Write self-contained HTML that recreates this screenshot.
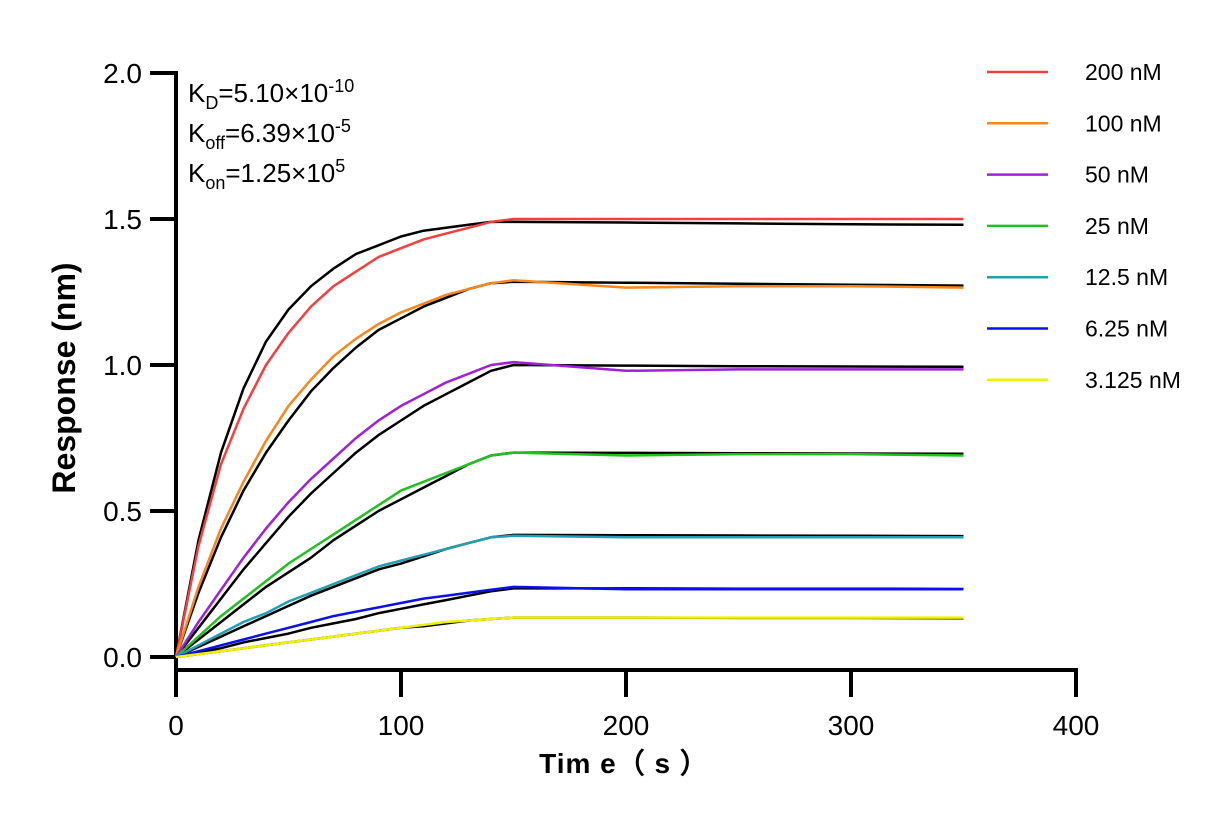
<!DOCTYPE html>
<html><head><meta charset="utf-8"><style>
body{margin:0;background:#fff}
text{font-family:"Liberation Sans",Arial,sans-serif}
</style></head><body>
<svg id="chart" width="1231" height="825" xmlns="http://www.w3.org/2000/svg">
<g id="axes"></g>
<g id="fits"></g>
<g id="series"></g>
<g id="legend"></g>
<text x="188" y="102" font-size="26">K<tspan font-size="18" dy="7">D</tspan><tspan dy="-7">=5.10×10</tspan><tspan font-size="18" dy="-10">-10</tspan></text>
<text x="188" y="142" font-size="26">K<tspan font-size="18" dy="7">off</tspan><tspan dy="-7">=6.39×10</tspan><tspan font-size="18" dy="-10">-5</tspan></text>
<text x="188" y="182" font-size="26">K<tspan font-size="18" dy="7">on</tspan><tspan dy="-7">=1.25×10</tspan><tspan font-size="18" dy="-10">5</tspan></text>
<text x="624" y="773" font-size="28" font-weight="bold" text-anchor="middle" letter-spacing="1">Tim e（ s ）</text>
<text transform="translate(75,378) rotate(-90)" font-size="32" font-weight="bold" text-anchor="middle">Response (nm)</text>
</svg>
<script>
const times=[0,10,20,30,40,50,60,70,80,90,100,110,120,130,140,150,200,250,300,350];
const labels=["200 nM","100 nM","50 nM","25 nM","12.5 nM","6.25 nM","3.125 nM"];
const colors=["#f04040","#f7861c","#a020d8","#20c020","#20a0b0","#0a10e8","#f0f000"];
const obs200=[0,0.38,0.66,0.85,1.0,1.11,1.2,1.27,1.32,1.37,1.40,1.43,1.45,1.47,1.49,1.50,1.50,1.50,1.50,1.50];
const obs100=[0,0.24,0.44,0.6,0.74,0.86,0.95,1.03,1.09,1.14,1.18,1.21,1.24,1.26,1.28,1.29,1.265,1.27,1.27,1.265];
const obs50=[0,0.12,0.23,0.34,0.44,0.53,0.61,0.68,0.75,0.81,0.86,0.9,0.94,0.97,1.0,1.01,0.98,0.985,0.985,0.985];
const obs25=[0,0.07,0.14,0.2,0.26,0.32,0.37,0.42,0.47,0.52,0.57,0.6,0.63,0.66,0.69,0.70,0.69,0.695,0.695,0.69];
const obs12=[0,0.04,0.08,0.12,0.15,0.19,0.22,0.25,0.28,0.31,0.33,0.35,0.37,0.39,0.41,0.415,0.41,0.41,0.41,0.41];
const obs6=[0,0.02,0.04,0.06,0.08,0.1,0.12,0.14,0.155,0.17,0.185,0.2,0.21,0.22,0.23,0.24,0.232,0.232,0.232,0.232];
const obs3=[0,0.01,0.02,0.03,0.04,0.05,0.06,0.07,0.08,0.09,0.1,0.11,0.12,0.125,0.13,0.135,0.135,0.135,0.135,0.135];
const fit200=[0,0.40,0.70,0.92,1.08,1.19,1.27,1.33,1.38,1.41,1.44,1.46,1.47,1.48,1.49,1.49,1.488,1.485,1.482,1.48];
const fit100=[0,0.22,0.41,0.57,0.7,0.81,0.91,0.99,1.06,1.12,1.16,1.2,1.23,1.26,1.28,1.285,1.282,1.278,1.275,1.272];
const fit50=[0,0.1,0.2,0.3,0.39,0.48,0.56,0.63,0.7,0.76,0.81,0.86,0.9,0.94,0.98,1.0,0.998,0.996,0.995,0.994];
const fit25=[0,0.06,0.12,0.18,0.24,0.29,0.34,0.4,0.45,0.5,0.54,0.58,0.62,0.66,0.69,0.70,0.699,0.698,0.697,0.696];
const fit12=[0,0.035,0.07,0.105,0.14,0.175,0.21,0.24,0.27,0.3,0.32,0.345,0.37,0.39,0.41,0.418,0.417,0.416,0.415,0.414];
const fit6=[0,0.015,0.03,0.05,0.065,0.08,0.1,0.115,0.13,0.15,0.165,0.18,0.195,0.21,0.225,0.235,0.235,0.234,0.234,0.233];
const fit3=[0,0.01,0.02,0.03,0.04,0.05,0.06,0.07,0.08,0.09,0.1,0.105,0.115,0.125,0.13,0.135,0.135,0.134,0.134,0.133];
const obsSeries=[obs200,obs100,obs50,obs25,obs12,obs6,obs3];
const fitSeries=[fit200,fit100,fit50,fit25,fit12,fit6,fit3];
const xTicks=[0,100,200,300,400];
const yTicks=[0,0.5,1.0,1.5,2.0];
const yTickLabels=["0.0","0.5","1.0","1.5","2.0"];

const NS="http://www.w3.org/2000/svg";
const X=t=>176+t*2.25;
const Y=v=>657-v*292;
function mk(tag,attrs,parent){const e=document.createElementNS(NS,tag);for(const k in attrs)e.setAttribute(k,attrs[k]);parent.appendChild(e);return e;}
const axes=document.getElementById('axes');
let yl=mk('line',{x1:176,y1:71,x2:176,y2:672,stroke:'#000','stroke-width':4},axes);


let xl=mk('line',{x1:174,y1:670,x2:1078,y2:670,stroke:'#000','stroke-width':4},axes);


xTicks.forEach(t=>{
  let l=mk('line',{x1:X(t),y1:670,x2:X(t),y2:697,stroke:'#000','stroke-width':4},axes);
  
  
  let tx=mk('text',{x:X(t),y:735,'font-size':28,'text-anchor':'middle'},axes);tx.textContent=t;
  
  
});
yTicks.forEach((v,i)=>{
  let l=mk('line',{x1:150,y1:Y(v),x2:176,y2:Y(v),stroke:'#000','stroke-width':4},axes);
  
  
  let tx=mk('text',{x:142,y:Y(v)+10,'font-size':28,'text-anchor':'end'},axes);tx.textContent=yTickLabels[i];
  
  
});
const pts=a=>a.map((v,i)=>X(times[i]).toFixed(1)+','+Y(v).toFixed(1)).join(' ');
const sg=document.getElementById('series'),fg=document.getElementById('fits');
obsSeries.forEach((s,i)=>{
  let p=mk('polyline',{points:pts(s),fill:'none',stroke:colors[i],'stroke-width':2.5,'stroke-linejoin':'round'},sg);
  
  
});
fitSeries.forEach((s,i)=>{
  let p=mk('polyline',{points:pts(s),fill:'none',stroke:'#000','stroke-width':2.5,'stroke-linejoin':'round'},fg);
  
  
});
document.getElementById('chart').appendChild(sg);
const lg=document.getElementById('legend');
labels.forEach((lab,i)=>{
  const y=72+i*51.3;
  let g=mk('g',{},lg);
  
  
  mk('line',{x1:987,y1:y,x2:1048,y2:y,stroke:colors[i],'stroke-width':2.5},g);
  let t=mk('text',{x:1085,y:y+8,'font-size':23},g);t.textContent=lab;
});
</script>
</body></html>
